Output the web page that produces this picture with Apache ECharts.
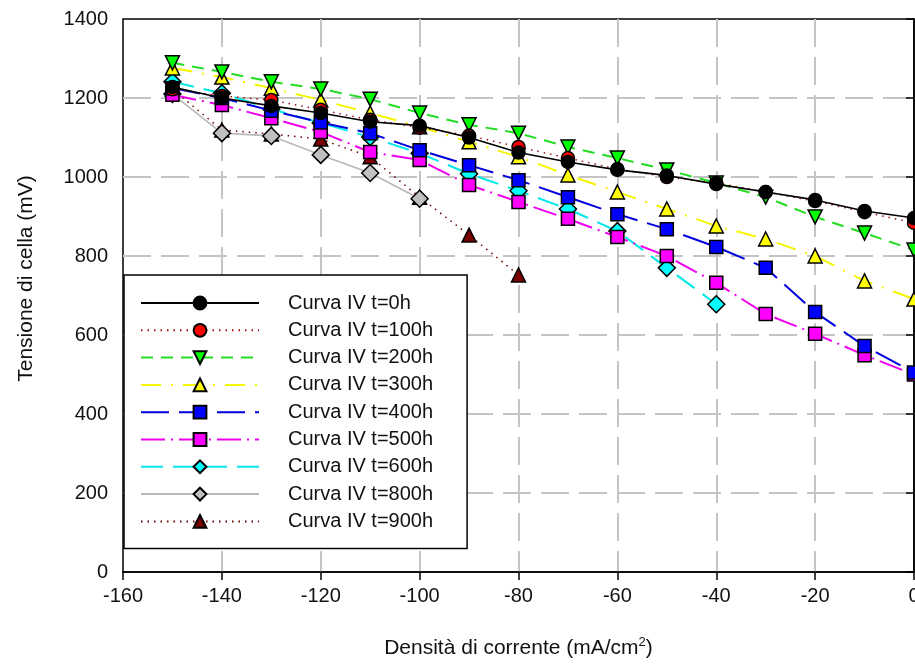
<!DOCTYPE html>
<html>
<head>
<meta charset="utf-8">
<script src="https://cdn.jsdelivr.net/npm/echarts@6/dist/echarts.min.js"></script>
<style>html,body{margin:0;padding:0;background:#fff;overflow:hidden;}#c{width:915px;height:665px;}</style>
</head>
<body>
<div id="c"></div>
<script>
const xs = [-150,-140,-130,-120,-110,-100,-90,-80,-70,-60,-50,-40,-30,-20,-10,0];
const t0   = [1228,1200,1180,1162,1140,1130,1100,1062,1038,1018,1004,982,962,942,914,896];
const t100 = [1222,1205,1195,1170,1145,1125,1105,1076,1048,1020,1000,985,962,939,911,884];
const t200 = [1289,1266,1241,1223,1197,1162,1132,1111,1076,1048,1018,985,949,899,858,815];
const t300 = [1276,1253,1225,1195,1162,1127,1089,1051,1005,962,919,876,843,800,737,691];
const t400 = [1225,1200,1168,1138,1111,1068,1030,992,949,906,868,823,770,658,572,505];
const t500 = [1208,1182,1149,1114,1063,1043,980,937,894,848,800,732,653,603,549,500];
const t600 = [1241,1212,1172,1137,1101,1060,1008,965,919,863,770,678];
const t800 = [1210,1111,1104,1056,1010,945];
const t900 = [1222,1119,1109,1096,1051,949,853,752];
const names = ['Curva IV t=0h','Curva IV t=100h','Curva IV t=200h','Curva IV t=300h','Curva IV t=400h','Curva IV t=500h','Curva IV t=600h','Curva IV t=800h','Curva IV t=900h'];
const xTicks = {min:-160, max:0, interval:20};
const yTicks = {min:0, max:1400, interval:200};

const FONT = 'Liberation Sans, Arial, sans-serif';
const pair = v => v.map((y,i)=>[xs[i], y]);

const styles = [
  {data:t0,   sym:'circle',   rot:0,   fill:'#000000', line:'#000000', type:'solid',          w:1.6, size:13},
  {data:t100, sym:'circle',   rot:0,   fill:'#ff0000', line:'#a01010', type:[1.5,5],          w:1.5, size:13},
  {data:t200, sym:'triangle', rot:180, fill:'#00ff00', line:'#22dd22', type:[12,8],           w:2,   size:14},
  {data:t300, sym:'triangle', rot:0,   fill:'#ffff00', line:'#f5f500', type:[20,10,2,10],     w:2,   size:14},
  {data:t400, sym:'rect',     rot:0,   fill:'#0000ff', line:'#0000dd', type:[28,10],          w:2,   size:13},
  {data:t500, sym:'rect',     rot:0,   fill:'#ff00ff', line:'#ee00ee', type:[24,6,2,6],       w:2,   size:13},
  {data:t600, sym:'diamond',  rot:0,   fill:'#00ffff', line:'#00e8e8', type:[22,10],          w:2,   size:17},
  {data:t800, sym:'diamond',  rot:0,   fill:'#c0c0c0', line:'#b8b8b8', type:'solid',          w:1.6, size:17},
  {data:t900, sym:'triangle', rot:0,   fill:'#7a0000', line:'#6a0000', type:[1.5,5],          w:1.5, size:14}
];

const series = styles.map((s,i)=>({
  name: names[i],
  type: 'line',
  data: pair(s.data),
  symbol: s.sym,
  symbolRotate: s.rot,
  symbolSize: s.size,
  showAllSymbol: true,
  z: 10 - i,
  lineStyle: {color: s.line, width: s.w, type: s.type},
  itemStyle: {color: s.fill, borderColor: '#000', borderWidth: 1.5, opacity: 1},
  emphasis: {disabled: true},
  animation: false
}));

const chart = echarts.init(document.getElementById('c'), null, {renderer:'canvas'});
chart.setOption({
  backgroundColor: '#fff',
  animation: false,
  textStyle: {fontFamily: FONT},
  grid: {left:123, right:1, top:19, bottom:93, show:true, borderColor:'#000', borderWidth:1.5,
         backgroundColor:'transparent', containLabel:false, outerBoundsMode:'none'},
  legend: {
    orient: 'vertical',
    left: 124, top: 275,
    padding: [18, 34, 17, 16],
    backgroundColor: '#fff',
    borderColor: '#000', borderWidth: 1.5,
    itemWidth: 118, itemHeight: 16, itemGap: 7.3,
    selectedMode: false,
    textStyle: {fontFamily: FONT, fontSize: 20, color:'#111', lineHeight: 20, padding:[0,0,0,24]},
    data: names
  },
  xAxis: {
    type: 'value', min: xTicks.min, max: xTicks.max, interval: xTicks.interval,
    name: 'Densità di corrente (mA/cm{sup|2})',
    nameLocation: 'middle', nameGap: 64,
    nameTextStyle: {fontFamily: FONT, fontSize: 21, color:'#111',
      rich: {sup: {fontSize: 13, verticalAlign: 'top', padding:[0,0,12,0], fontFamily: FONT, color:'#111'}}},
    axisLine: {show:true, onZero:false, lineStyle:{color:'#000', width:1.5}},
    axisTick: {show:true, inside:false, length:8, lineStyle:{color:'#000', width:1.5}},
    axisLabel: {fontFamily: FONT, fontSize: 20, color:'#111', margin: 14, formatter: v => String(v)},
    splitLine: {show:true, showMinLine:false, showMaxLine:false, lineStyle:{color:'#c4c4c4', width:2, type:[28,10]}}
  },
  yAxis: {
    type: 'value', min: yTicks.min, max: yTicks.max, interval: yTicks.interval,
    name: 'Tensione di cella (mV)',
    nameLocation: 'middle', nameGap: 86,
    nameTextStyle: {fontFamily: FONT, fontSize: 21, color:'#111', padding:[0,0,0,34]},
    axisLine: {show:true, lineStyle:{color:'#000', width:1.5}},
    axisTick: {show:true, inside:false, length:8, lineStyle:{color:'#000', width:1.5}},
    axisLabel: {fontFamily: FONT, fontSize: 20, color:'#111', margin: 15, formatter: v => String(v)},
    splitLine: {show:true, showMinLine:false, showMaxLine:false, lineStyle:{color:'#c4c4c4', width:2, type:[28,10]}}
  },
  series: series
});
</script>
</body>
</html>
